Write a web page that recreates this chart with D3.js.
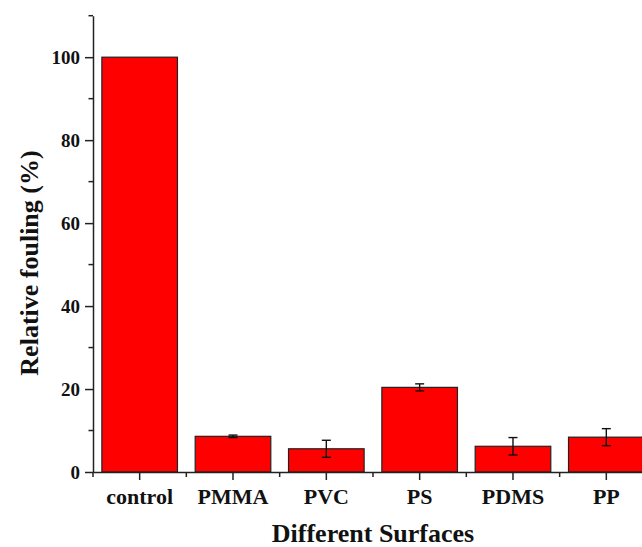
<!DOCTYPE html>
<html>
<head>
    <meta charset="utf-8">
    <script src="https://d3js.org/d3.v7.min.js"></script>
    <style>
        html, body { margin: 0; padding: 0; background: #fff; }
        text { font-family: "Liberation Serif", "Times New Roman", serif; font-weight: bold; fill: #111; }
    </style>
</head>
<body>
<div id="chart"></div>
<script>
    // data
    const surfaces = ["control", "PMMA", "PVC", "PS", "PDMS", "PP"];
    const fouling = [100, 8.6, 5.6, 20.4, 6.2, 8.4];
    const errors = [0, 0.3, 2.05, 0.85, 2.1, 2.05];
    const yTicks = [0, 20, 40, 60, 80, 100];
    const yMinorTicks = [10, 30, 50, 70, 90, 110];

    const width = 642, height = 547;
    const x0 = 93, y0 = 472, yTop = 15.7;

    const svg = d3.select("#chart").append("svg")
        .attr("width", width)
        .attr("height", height);

    // band scale runs past the right edge, like the cropped original
    const x = d3.scaleBand()
        .domain(surfaces)
        .range([x0, x0 + 6 * 93.33])
        .paddingInner(0.19)
        .paddingOuter(0.095);

    const y = d3.scaleLinear().domain([0, 110]).range([y0, yTop]);

    const rows = surfaces.map((s, i) => ({ name: s, value: fouling[i], err: errors[i] }));

    // bars
    svg.append("g").selectAll("rect")
        .data(rows)
        .enter().append("rect")
        .attr("x", d => x(d.name))
        .attr("y", d => y(d.value))
        .attr("width", x.bandwidth())
        .attr("height", d => y(0) - y(d.value))
        .attr("fill", "#ff0000")
        .attr("stroke", "#222")
        .attr("stroke-width", 1.2);

    // error bars
    const eb = svg.append("g").attr("stroke", "#111").attr("stroke-width", 1.4);
    rows.filter(d => d.err > 0).forEach(d => {
        const cx = x(d.name) + x.bandwidth() / 2;
        eb.append("line").attr("x1", cx).attr("x2", cx)
            .attr("y1", y(d.value + d.err)).attr("y2", y(d.value - d.err));
        [d.value + d.err, d.value - d.err].forEach(v => {
            eb.append("line").attr("x1", cx - 4.5).attr("x2", cx + 4.5)
                .attr("y1", y(v)).attr("y2", y(v));
        });
    });

    // y axis
    const yAxis = svg.append("g")
        .attr("transform", `translate(${x0},0)`)
        .call(d3.axisLeft(y).tickValues(yTicks).tickSize(8).tickPadding(5).tickSizeOuter(0));
    yAxis.select(".domain").attr("stroke", "#222").attr("stroke-width", 1.5);
    yAxis.selectAll(".tick line").attr("stroke", "#222").attr("stroke-width", 1.5);
    yAxis.selectAll(".tick text").style("font-size", "19px").attr("font-family", null);
    yAxis.selectAll(".minor").data(yMinorTicks).enter().append("line")
        .attr("x1", -4.5).attr("x2", 0)
        .attr("y1", d => y(d)).attr("y2", d => y(d))
        .attr("stroke", "#222").attr("stroke-width", 1.5);

    // x axis
    const xAxis = svg.append("g")
        .attr("transform", `translate(0,${y0})`)
        .call(d3.axisBottom(x).tickSize(8).tickPadding(8).tickSizeOuter(0));
    xAxis.select(".domain").attr("stroke", "#222").attr("stroke-width", 1.5);
    xAxis.selectAll(".tick line").attr("stroke", "#222").attr("stroke-width", 1.5);
    xAxis.selectAll(".tick text").style("font-size", "22px").attr("font-family", null);
    xAxis.selectAll(".minor").data(d3.range(surfaces.length + 1)).enter().append("line")
        .attr("x1", d => x0 + d * x.step()).attr("x2", d => x0 + d * x.step())
        .attr("y1", 0).attr("y2", 5)
        .attr("stroke", "#222").attr("stroke-width", 1.5);

    // axis titles
    svg.append("text")
        .attr("x", 373).attr("y", 542)
        .attr("text-anchor", "middle")
        .style("font-size", "26px")
        .text("Different Surfaces");

    svg.append("text")
        .attr("transform", "translate(38,263) rotate(-90)")
        .attr("text-anchor", "middle")
        .style("font-size", "26px")
        .text("Relative fouling (%)");
</script>
</body>
</html>
